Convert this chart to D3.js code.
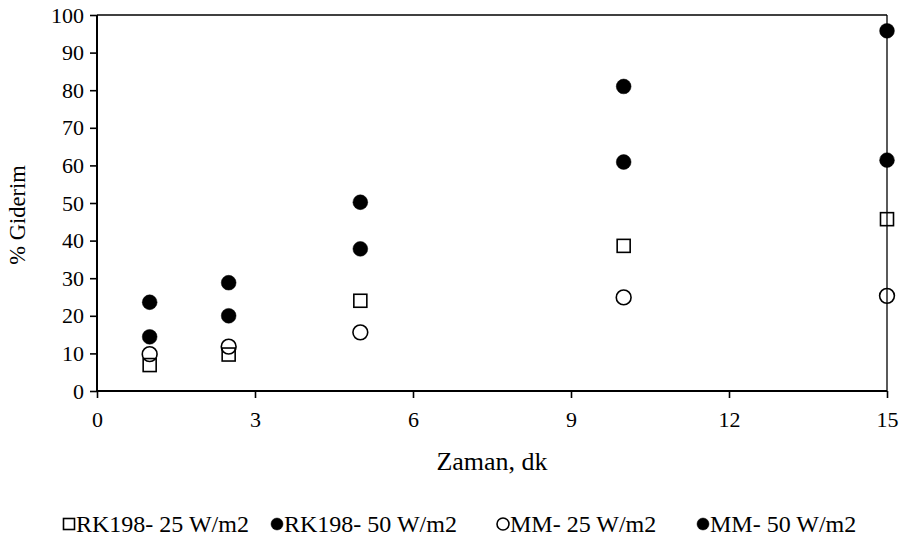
<!DOCTYPE html>
<html><head><meta charset="utf-8">
<script src="https://cdn.jsdelivr.net/npm/d3@7"></script>
<style>body{margin:0;background:#fff}svg{display:block}text{font-family:"Liberation Serif","Times New Roman",serif;fill:#000}</style>
</head><body><svg id="c" width="905" height="540"></svg>
<script>
const times = [1, 2.5, 5, 10, 15];
const rk25 = [6.9, 9.7, 24.0, 38.6, 45.7];
const rk50 = [23.6, 28.8, 50.2, 81.0, 95.8];
const mm25 = [9.8, 11.8, 15.6, 24.9, 25.3];
const mm50 = [14.4, 20.0, 37.8, 60.9, 61.4];
const seriesNames = ["RK198- 25 W/m2", "RK198- 50 W/m2", "MM- 25 W/m2", "MM- 50 W/m2"];
const xTicks = [0, 3, 6, 9, 12, 15];
const yTicks = [0, 10, 20, 30, 40, 50, 60, 70, 80, 90, 100];

const series = [
  {name: seriesNames[0], vals: rk25, shape: "square", fill: false},
  {name: seriesNames[1], vals: rk50, shape: "circle", fill: true},
  {name: seriesNames[2], vals: mm25, shape: "circle", fill: false},
  {name: seriesNames[3], vals: mm50, shape: "circle", fill: true}
];

const svg = d3.select("#c");
const L = 97, R = 887, T = 15, B = 391;
const x = d3.scaleLinear().domain([0, 15]).range([L, R]);
const y = d3.scaleLinear().domain([0, 100]).range([B, T]);

// top and right frame lines
svg.append("line").attr("x1", L).attr("x2", R).attr("y1", y(100)).attr("y2", y(100)).attr("stroke", "#000").attr("stroke-width", 1.3);
svg.append("line").attr("x1", R).attr("x2", R).attr("y1", y(100)).attr("y2", B).attr("stroke", "#000").attr("stroke-width", 1.3);

const yAxis = svg.append("g").attr("transform", `translate(${L},0)`)
  .call(d3.axisLeft(y).tickValues(yTicks).tickSize(7).tickPadding(6).tickFormat(d3.format("d")));
const xAxis = svg.append("g").attr("transform", `translate(0,${B})`)
  .call(d3.axisBottom(x).tickValues(xTicks).tickSize(7).tickPadding(13).tickFormat(d3.format("d")));
[yAxis, xAxis].forEach(g => {
  g.select(".domain").attr("stroke", "#000").attr("stroke-width", 2);
  g.selectAll(".tick line").attr("stroke", "#000").attr("stroke-width", 1.6);
  g.selectAll(".tick text").attr("font-family", "Liberation Serif").attr("font-size", 22).attr("fill", "#000");
});
xAxis.select(".domain").attr("d", `M${L},0H${R}`);
yAxis.select(".domain").attr("d", `M0,${B}V${T}`);

svg.append("text").attr("x", 492).attr("y", 470).attr("text-anchor", "middle").attr("font-size", 26).text("Zaman, dk");
svg.append("text").attr("transform", `translate(25,215) rotate(-90)`).attr("text-anchor", "middle").attr("font-size", 22.5).text("% Giderim");

function drawMarker(g, s, cx, cy, size) {
  if (s.shape === "square") {
    g.append("rect").attr("x", cx - size).attr("y", cy - size).attr("width", 2 * size).attr("height", 2 * size)
      .attr("fill", "none").attr("stroke", "#000").attr("stroke-width", 1.6);
  } else {
    g.append("circle").attr("cx", cx).attr("cy", cy).attr("r", size)
      .attr("fill", s.fill ? "#000" : "none").attr("stroke", "#000").attr("stroke-width", s.fill ? 0.5 : 1.6);
  }
}

const pts = svg.append("g");
series.forEach(s => {
  s.vals.forEach((v, i) => drawMarker(pts, s, x(times[i]), y(v), s.shape === "square" ? 6.5 : 7.4));
});

// legend
const legX = [69, 277, 503, 703];
const leg = svg.append("g");
series.forEach((s, i) => {
  drawMarker(leg, s, legX[i], 524, s.shape === "square" ? 5.5 : 6);
  leg.append("text").attr("x", legX[i] + 7).attr("y", 532).attr("font-size", 24).text(s.name);
});
</script>
</body></html>
